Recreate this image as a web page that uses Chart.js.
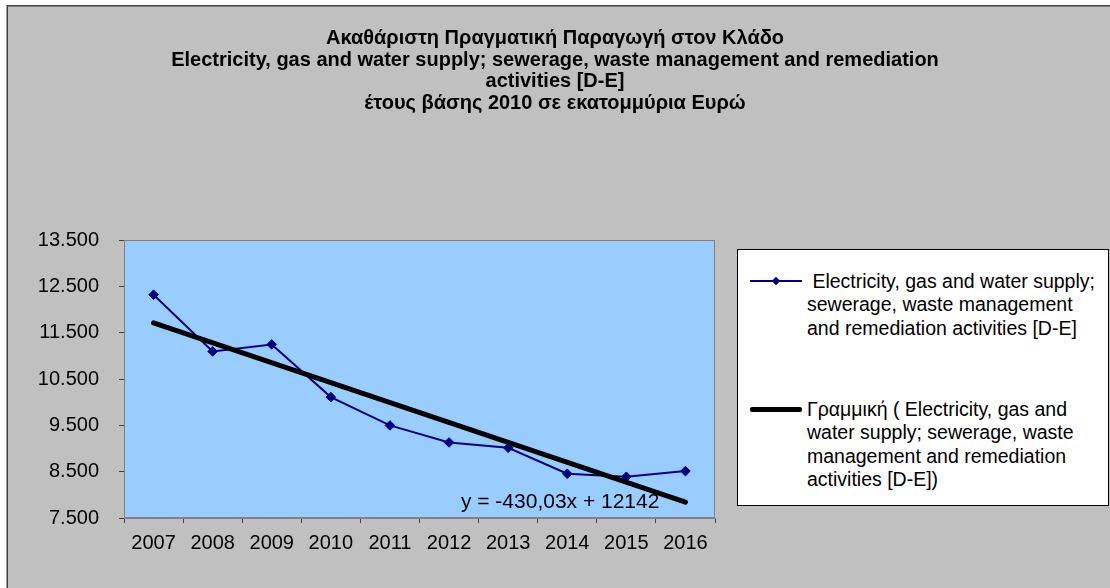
<!DOCTYPE html>
<html>
<head>
<meta charset="utf-8">
<script src="https://cdn.jsdelivr.net/npm/chart.js@4.4.1/dist/chart.umd.min.js"></script>
<style>
  html, body { margin: 0; padding: 0; background: #ffffff; }
  #wrap { position: relative; width: 1110px; height: 588px; overflow: hidden; }
  #c { position: absolute; left: 0; top: 0; }
  #title {
    position: absolute; left: 0; top: 27px; width: 1110px; text-align: center;
    font-family: "Liberation Sans", Arial, sans-serif; font-weight: bold; font-size: 20px;
    line-height: 21.7px; color: #000;
  }
  #legend {
    position: absolute; left: 737px; top: 249px; width: 370px; height: 255px;
    background: #ffffff; border: 1px solid #000000;
    font-family: "Liberation Sans", Arial, sans-serif; font-size: 19.5px; line-height: 23.3px; color: #000;
  }
  .ltext { position: absolute; left: 69px; white-space: nowrap; }
  .lline { position: absolute; left: 12px; width: 52px; }
  .ldiamond { position: absolute; width: 6px; height: 6px; background: #000080; transform: rotate(45deg); }
</style>
</head>
<body>
<div id="wrap">
  <canvas id="c" width="1110" height="588"></canvas>
  <div id="title"></div>
  <div id="legend">
    <div class="lline" style="top:30px;height:2px;background:#000080;"></div>
    <div class="ldiamond" style="left:35px;top:28px;"></div>
    <div class="ltext" id="leg1" style="top:20px;"></div>
    <div class="lline" style="top:157px;height:5px;background:#000000;border-radius:2px;"></div>
    <div class="ltext" id="leg2" style="top:148px;"></div>
  </div>
</div>
<script>
// ---- data ----
const categories = ['2007', '2008', '2009', '2010', '2011', '2012', '2013', '2014', '2015', '2016'];
const seriesValues = [12319, 11095, 11246, 10109, 9498, 9131, 9016, 8455, 8390, 8512];
const trendValues = [11712, null, null, null, null, null, null, null, null, 7842];
const yTickValues = [7500, 8500, 9500, 10500, 11500, 12500, 13500];
const yTickLabels = ['7.500', '8.500', '9.500', '10.500', '11.500', '12.500', '13.500'];
const titleLines = [
  'Ακαθάριστη Πραγματική Παραγωγή στον Κλάδο',
  'Electricity, gas and water supply; sewerage, waste management and remediation',
  'activities [D-E]',
  'έτους βάσης 2010 σε εκατομμύρια Ευρώ'
];
const seriesLabelLines = [
  '\u00a0Electricity, gas and water supply;',
  'sewerage, waste management',
  'and remediation activities [D-E]'
];
const trendLabelLines = [
  'Γραμμική ( Electricity, gas and',
  'water supply; sewerage, waste',
  'management and remediation',
  'activities [D-E])'
];
const equationText = 'y = -430,03x + 12142';

// ---- html text ----
function fillLines(el, lines) {
  lines.forEach((t, i) => {
    if (i) el.appendChild(document.createElement('br'));
    el.appendChild(document.createTextNode(t));
  });
}
fillLines(document.getElementById('title'), titleLines);
fillLines(document.getElementById('leg1'), seriesLabelLines);
fillLines(document.getElementById('leg2'), trendLabelLines);

const FONT = '"Liberation Sans", Arial, sans-serif';

const decorPlugin = {
  id: 'decor',
  beforeDraw(chart) {
    const ctx = chart.ctx;
    const a = chart.chartArea;
    ctx.save();
    ctx.fillStyle = '#ffffff';
    ctx.fillRect(0, 0, chart.width, chart.height);
    ctx.fillStyle = '#c0c0c0';
    ctx.fillRect(7, 6, chart.width, chart.height);
    ctx.strokeStyle = '#404040';
    ctx.lineWidth = 1.5;
    ctx.beginPath();
    ctx.moveTo(7.25, chart.height);
    ctx.lineTo(7.25, 5.75);
    ctx.lineTo(chart.width, 5.75);
    ctx.stroke();
    ctx.fillStyle = '#99ccff';
    ctx.fillRect(a.left, a.top, a.right - a.left, a.bottom - a.top);
    ctx.restore();
  },
  afterDatasetsDraw(chart) {
    const ctx = chart.ctx;
    const a = chart.chartArea;
    const xs = chart.scales.x, ys = chart.scales.y;
    ctx.save();
    ctx.strokeStyle = '#808080';
    ctx.lineWidth = 1;
    ctx.strokeRect(a.left + 0.5, a.top + 0.5, a.right - a.left - 1, a.bottom - a.top - 1);
    ctx.fillStyle = '#000000';
    ctx.font = '21px ' + FONT;
    ctx.textAlign = 'center';
    ctx.textBaseline = 'middle';
    ctx.fillText(equationText, xs.getPixelForValue(6.88), ys.getPixelForValue(7850));
    ctx.restore();
  }
};

new Chart(document.getElementById('c'), {
  type: 'line',
  data: {
    labels: categories,
    datasets: [
      {
        label: seriesLabelLines.join(' '),
        data: seriesValues,
        borderColor: '#000080',
        backgroundColor: '#000080',
        borderWidth: 2,
        pointStyle: 'rectRot',
        pointRadius: 4.8,
        pointBorderWidth: 1,
        pointBackgroundColor: '#000080',
        pointBorderColor: '#000080',
        tension: 0,
        order: 2
      },
      {
        label: trendLabelLines.join(' '),
        data: trendValues,
        spanGaps: true,
        borderColor: '#000000',
        borderWidth: 5,
        borderCapStyle: 'round',
        pointRadius: 0,
        tension: 0,
        order: 1
      }
    ]
  },
  options: {
    responsive: false,
    animation: false,
    devicePixelRatio: 1,
    events: [],
    layout: { padding: { left: 0, top: 240, right: 395, bottom: 20 } },
    plugins: {
      legend: { display: false },
      title: { display: false },
      tooltip: { enabled: false }
    },
    scales: {
      x: {
        type: 'category',
        offset: true,
        grid: {
          offset: true,
          drawOnChartArea: false,
          drawTicks: true,
          tickLength: 5,
          color: '#404040'
        },
        border: { display: true, color: '#808080' },
        ticks: {
          color: '#000000',
          font: { family: FONT, size: 20 },
          padding: 8,
          maxRotation: 0,
          autoSkip: false
        },
        afterFit(scale) { scale.height = 50; }
      },
      y: {
        min: 7500,
        max: 13500,
        afterBuildTicks(scale) { scale.ticks = yTickValues.map(v => ({ value: v })); },
        grid: {
          drawOnChartArea: false,
          drawTicks: true,
          tickLength: 5,
          color: '#404040'
        },
        border: { display: true, color: '#808080' },
        ticks: {
          color: '#000000',
          font: { family: FONT, size: 20 },
          padding: 20,
          callback(value) {
            const i = yTickValues.indexOf(value);
            return i >= 0 ? yTickLabels[i] : '';
          }
        },
        afterFit(scale) { scale.width = 124; }
      }
    }
  },
  plugins: [decorPlugin]
});
</script>
</body>
</html>
